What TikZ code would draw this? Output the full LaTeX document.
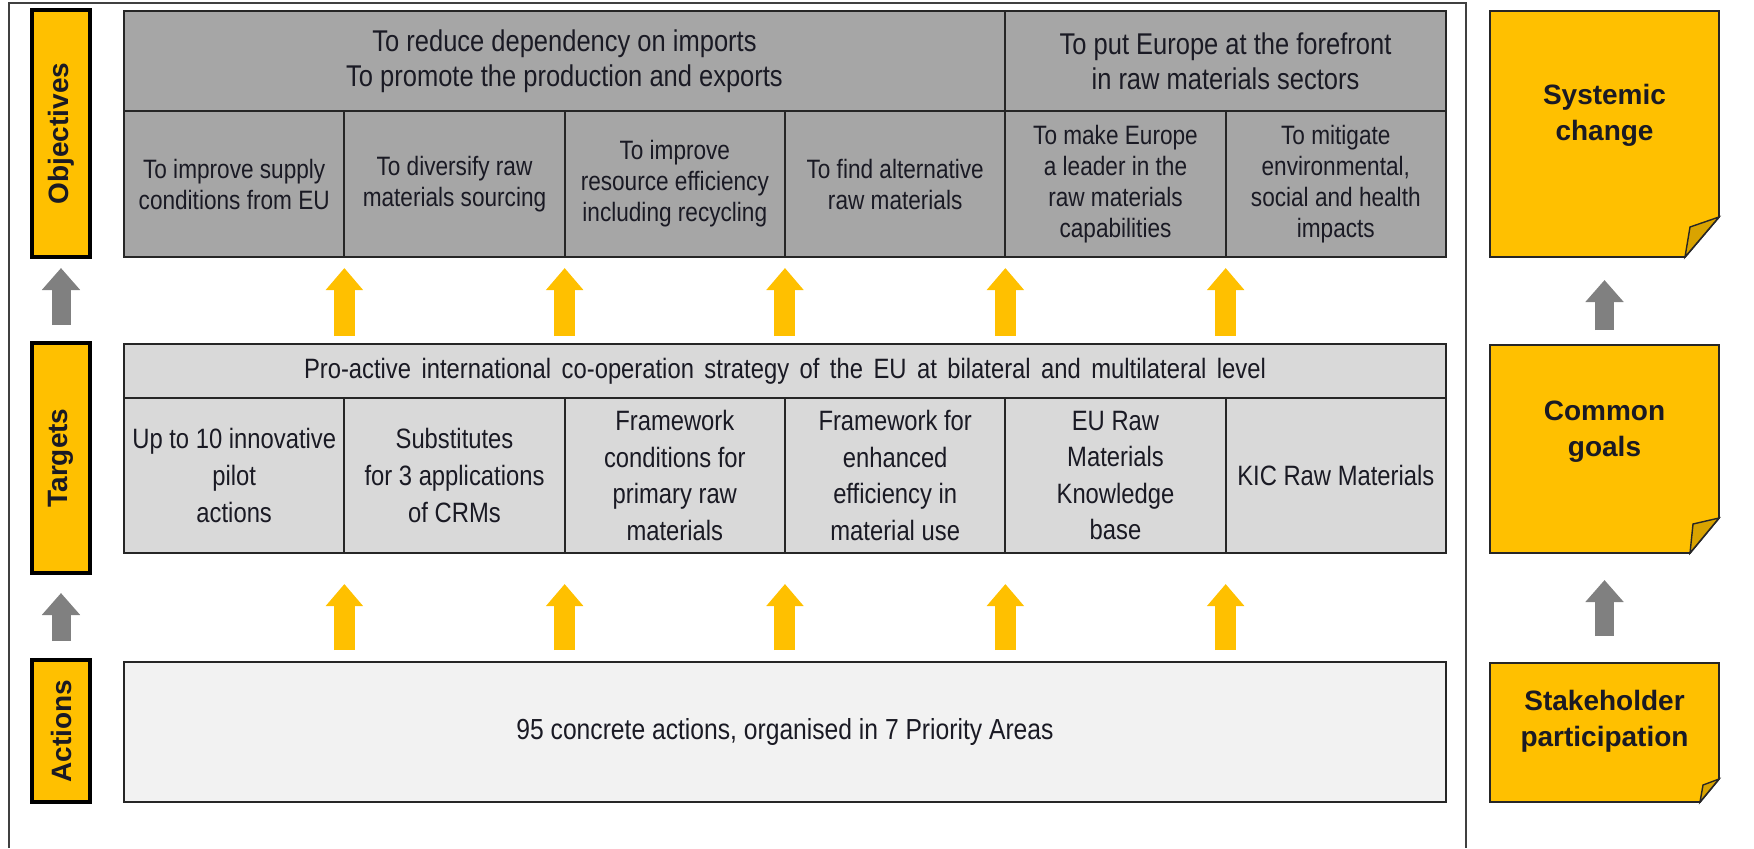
\documentclass[tikz,border=0pt]{standalone}
\usepackage{fontspec}
\setmainfont{Liberation Sans}
\newfontfamily\narrowsf{Liberation Sans}[FakeStretch=0.85]
\usetikzlibrary{arrows.meta}

\definecolor{gold}{HTML}{FFC000}
\definecolor{folded}{HTML}{D9A300}
\definecolor{objgrey}{HTML}{A6A6A6}
\definecolor{tgtgrey}{HTML}{D9D9D9}
\definecolor{actgrey}{HTML}{F2F2F2}
\definecolor{arrgrey}{HTML}{808080}
\definecolor{edge}{HTML}{262626}
\definecolor{ink}{HTML}{1A1A24}

\begin{document}
\begin{tikzpicture}[x=0.5pt, y=-0.5pt,
    every node/.style={inner sep=0pt, outer sep=0pt, text=ink},
    cell/.style={draw=edge, line width=0.9pt, align=center},
    objhead/.style={cell, fill=objgrey, minimum height=50pt, font=\narrowsf\fontsize{15}{17.5}\selectfont},
    objcell/.style={cell, fill=objgrey, minimum width=110.17pt, minimum height=73pt, font=\narrowsf\fontsize{13.3}{15.5}\selectfont},
    tgthead/.style={cell, fill=tgtgrey, minimum width=661pt, minimum height=27pt, font=\narrowsf\fontsize{14}{17}\selectfont},
    tgtcell/.style={cell, fill=tgtgrey, minimum width=110.17pt, minimum height=77.5pt, font=\narrowsf\fontsize{14}{18.3}\selectfont},
    actbox/.style={cell, fill=actgrey, minimum width=661pt, minimum height=70pt, font=\narrowsf\fontsize{14.5}{17}\selectfont},
    tag/.style={draw=black, line width=1.8pt, fill=gold, minimum width=28.75pt, font=\bfseries\fontsize{14}{16}\selectfont},
    note/.style={minimum width=114.5pt},
    notepaper/.style={draw=edge, line width=0.9pt, fill=gold},
    notefold/.style={draw=edge, line width=0.7pt, fill=folded},
    notetext/.style={align=center, font=\bfseries\fontsize{14}{18}\selectfont},
    yarrow/.style={draw=gold, line width=10.5pt, -{Triangle[width=18pt,length=11pt]}},
    garrow/.style={draw=arrgrey, line width=9.5pt, -{Triangle[width=18.5pt,length=11pt]}}]

    \useasboundingbox (0,0) rectangle (1754,848);
    \draw[line width=0.8pt, draw=black!75] (9,848) -- (9,3) -- (1466,3) -- (1466,848);

    % Objectives
    \node[objhead, minimum width=440.5pt] (oh1) at (564.5,61) {To reduce dependency on imports\\To promote the production and exports};
    \node[objhead, minimum width=220.5pt] (oh2) at (1225.5,61) {To put Europe at the forefront\\in raw materials sectors};
    \node[objcell] (o1) at (234.2,184) {To improve supply\\conditions from EU};
    \node[objcell] (o2) at (454.5,184) {To diversify raw\\materials sourcing};
    \node[objcell] (o3) at (674.8,184) {To improve\\resource efficiency\\including recycling};
    \node[objcell] (o4) at (895.2,184) {To find alternative\\raw materials};
    \node[objcell] (o5) at (1115.5,184) {To make Europe\\a leader in the\\raw materials\\capabilities};
    \node[objcell] (o6) at (1335.8,184) {To mitigate\\environmental,\\social and health\\impacts};

    % Targets
    \node[tgthead] (th) at (785,371) {\makebox[481pt][s]{Pro-active international co-operation strategy of the EU at bilateral and multilateral level}};
    \node[tgtcell] (t1) at (234.2,475.5) {Up to 10 innovative\\pilot\\actions};
    \node[tgtcell] (t2) at (454.5,475.5) {Substitutes\\for 3 applications\\of CRMs};
    \node[tgtcell] (t3) at (674.8,475.5) {Framework\\conditions for\\primary raw\\materials};
    \node[tgtcell] (t4) at (895.2,475.5) {Framework for\\enhanced\\efficiency in\\material use};
    \node[tgtcell] (t5) at (1115.5,475.5) {EU Raw\\Materials\\Knowledge\\base};
    \node[tgtcell] (t6) at (1335.8,475.5) {KIC Raw Materials};

    % Actions
    \node[actbox] (act) at (785,732) {95 concrete actions, organised in 7 Priority Areas};

    % Level tags
    \node[tag, minimum height=123.5pt] (tagobj) at (61,133.5) {\rotatebox{90}{Objectives}};
    \node[tag, minimum height=115pt] (tagtgt) at (61,458) {\rotatebox{90}{Targets}};
    \node[tag, minimum height=71pt] (tagact) at (61,731) {\rotatebox{90}{Actions}};

    % Sticky notes
    \node[note, minimum height=123pt] (sys) at (1604.5,134) {};
    \draw[notepaper] (sys.north west) -- (sys.north east) -- ([yshift=20pt]sys.south east) -- ([xshift=-17pt]sys.south east) -- (sys.south west) -- cycle;
    \draw[notefold] ([yshift=20pt]sys.south east) -- ([xshift=-14.5pt,yshift=15pt]sys.south east) -- ([xshift=-17pt]sys.south east) -- cycle;
    \node[notetext] (sys-text) at ([yshift=9.5pt]sys.center) {Systemic\\change};

    \node[note, minimum height=104pt] (goals) at (1604.5,449) {};
    \draw[notepaper] (goals.north west) -- (goals.north east) -- ([yshift=17.5pt]goals.south east) -- ([xshift=-14.5pt]goals.south east) -- (goals.south west) -- cycle;
    \draw[notefold] ([yshift=17.5pt]goals.south east) -- ([xshift=-13pt,yshift=14.5pt]goals.south east) -- ([xshift=-14.5pt]goals.south east) -- cycle;
    \node[notetext] (goals-text) at ([yshift=8.5pt]goals.center) {Common\\goals};

    \node[note, minimum height=69.5pt] (stake) at (1604.5,732.5) {};
    \draw[notepaper] (stake.north west) -- (stake.north east) -- ([yshift=11.5pt]stake.south east) -- ([xshift=-9.5pt]stake.south east) -- (stake.south west) -- cycle;
    \draw[notefold] ([yshift=11.5pt]stake.south east) -- ([xshift=-8pt,yshift=8.5pt]stake.south east) -- ([xshift=-9.5pt]stake.south east) -- cycle;
    \node[notetext] (stake-text) at ([yshift=5.5pt]stake.center) {Stakeholder\\participation};

    % Yellow arrows between the levels
    \draw[yarrow, shorten <=4pt, shorten >=5.5pt] (th.north -| o1.east) -- (o1.south east);
    \draw[yarrow, shorten <=4pt, shorten >=5.5pt] (th.north -| o2.east) -- (o2.south east);
    \draw[yarrow, shorten <=4pt, shorten >=5.5pt] (th.north -| o3.east) -- (o3.south east);
    \draw[yarrow, shorten <=4pt, shorten >=5.5pt] (th.north -| o4.east) -- (o4.south east);
    \draw[yarrow, shorten <=4pt, shorten >=5.5pt] (th.north -| o5.east) -- (o5.south east);
    \draw[yarrow, shorten <=6pt, shorten >=15.5pt] (act.north -| t1.east) -- (t1.south east);
    \draw[yarrow, shorten <=6pt, shorten >=15.5pt] (act.north -| t2.east) -- (t2.south east);
    \draw[yarrow, shorten <=6pt, shorten >=15.5pt] (act.north -| t3.east) -- (t3.south east);
    \draw[yarrow, shorten <=6pt, shorten >=15.5pt] (act.north -| t4.east) -- (t4.south east);
    \draw[yarrow, shorten <=6pt, shorten >=15.5pt] (act.north -| t5.east) -- (t5.south east);

    % Grey arrows
    \draw[garrow, shorten <=9pt, shorten >=5.5pt] (tagtgt.north) -- (tagobj.south);
    \draw[garrow, shorten <=9.5pt, shorten >=10pt] (tagact.north) -- (tagtgt.south);
    \draw[garrow, shorten <=7.5pt, shorten >=11.5pt] (goals.north) -- (sys.south);
    \draw[garrow, shorten <=13.5pt, shorten >=13.5pt] (stake.north) -- (goals.south);
\end{tikzpicture}
\end{document}
